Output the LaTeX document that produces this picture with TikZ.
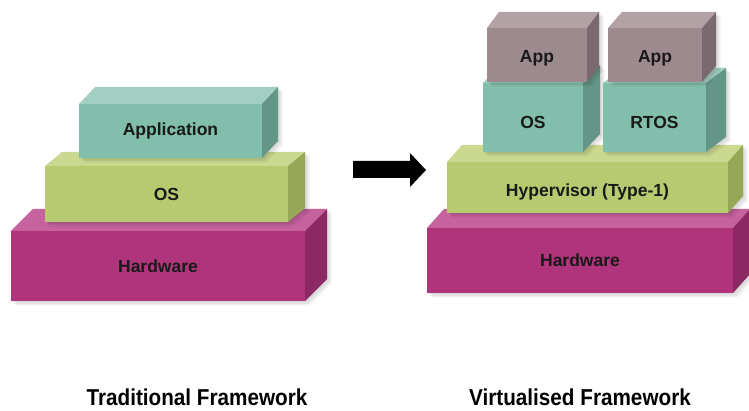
\documentclass[tikz,border=0pt]{standalone}
\usepackage{fontspec}
\setmainfont{Liberation Sans}
\usetikzlibrary{calc}

% face colours: front, top (lit) and side (shaded) of each layer family
\definecolor{hwfront}{RGB}{176,52,124}
\definecolor{hwtop}{RGB}{198,98,158}
\definecolor{hwside}{RGB}{140,40,100}
\definecolor{grfront}{RGB}{184,202,112}
\definecolor{grtop}{RGB}{203,217,144}
\definecolor{grside}{RGB}{150,168,86}
\definecolor{tlfront}{RGB}{130,190,172}
\definecolor{tltop}{RGB}{162,207,194}
\definecolor{tlside}{RGB}{100,150,135}
\definecolor{apfront}{RGB}{156,138,142}
\definecolor{aptop}{RGB}{178,162,166}
\definecolor{apside}{RGB}{122,105,110}
\definecolor{labeltext}{RGB}{25,25,25}

\tikzset{
  slabface/.style={inner sep=0pt, outer sep=0pt, text=labeltext,
    font=\bfseries\fontsize{17.5}{20}\selectfont},
  caption/.style={inner sep=0pt, text=black,
    font=\bfseries\fontsize{23}{26}\selectfont},
  softshadow/.style={fill=black, fill opacity=0.05},
}

% \slab[label drop]{name}{left}{top}{right}{bottom}{depth dx,dy}{colour family}{label}
\newcommand\slab[9][0pt]{%
  % soft drop shadow of the whole block outline
  \foreach \s in {1.5,3,4.5}{
    \fill[softshadow, shift={(\s,\s)}] (#3,#6) -- (#3,#4) -- ($(#3,#4)+(#7)$)
      -- ($(#5,#4)+(#7)$) -- ($(#5,#6)+(#7)$) -- (#5,#6) -- cycle;
  }
  \node[slabface, fill=#8front,
        minimum width={(#5-#3)*1pt}, minimum height={(#6-#4)*1pt}]
        (#2) at ({(#3+#5)/2},{(#4+#6)/2}) {\raisebox{#1}[\height][\depth]{#9}};
  \fill[#8top] (#2.north west) -- ++(#7) -- ($(#2.north east)+(#7)$)
               -- (#2.north east) -- cycle;
  \fill[#8side] (#2.north east) -- ++(#7) -- ($(#2.south east)+(#7)$)
               -- (#2.south east) -- cycle;
}

\begin{document}
\begin{tikzpicture}[x=1pt, y=-1pt]
  \path[use as bounding box, fill=white] (0,0) rectangle (749,411);

  % traditional stack
  \slab{hwA}{11}{231}{305}{301}{22,-22}{hw}{Hardware}
  \slab{osA}{45}{166}{288}{222}{17,-14}{gr}{OS}
  \slab{appA}{79}{104}{262}{158}{16,-17}{tl}{Application}

  % block arrow between the two stacks
  \fill[black] (353,161) -- (410,161) -- (410,153) -- (426,170)
               -- (410,187) -- (410,178) -- (353,178) -- cycle;

  % virtualised stack
  \slab{hwB}{427}{228}{733}{293}{17,-19}{hw}{Hardware}
  \slab[-4pt]{hyp}{447}{162}{728}{213}{15,-17}{gr}{Hypervisor (Type-1)}
  \slab[-5pt]{osB}{483}{83}{583}{152}{17,-18}{tl}{OS}
  \slab[-5pt]{rtos}{603}{83}{706}{152}{20,-15}{tl}{RTOS}
  \slab[-3pt]{appB}{487}{28}{587}{82}{12,-16}{ap}{App}
  \slab[-3pt]{appC}{608}{28}{702}{82}{14,-16}{ap}{App}

  % captions
  \node[caption] (capA) at (197,397) {\scalebox{0.9}[1]{Traditional Framework}};
  \node[caption] (capB) at (580,397) {\scalebox{0.9}[1]{Virtualised Framework}};
\end{tikzpicture}
\end{document}
